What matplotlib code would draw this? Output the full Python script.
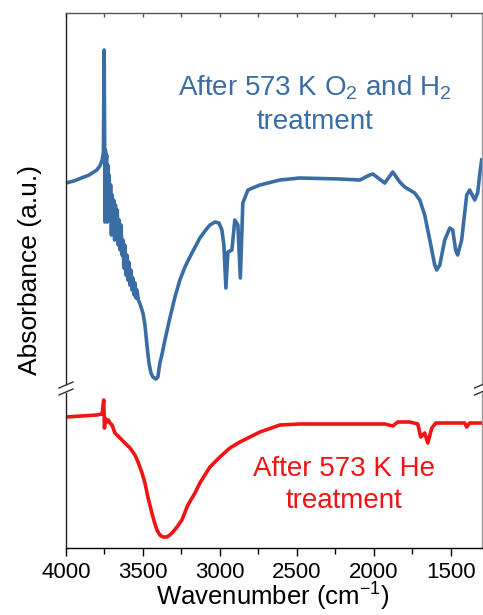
import matplotlib
matplotlib.use("Agg")
import matplotlib.pyplot as plt
from matplotlib.ticker import MultipleLocator

plt.rcParams['font.family'] = ['Liberation Sans', 'DejaVu Sans']
plt.rcParams['mathtext.fontset'] = 'custom'
plt.rcParams['mathtext.rm'] = 'Liberation Sans'
plt.rcParams['mathtext.it'] = 'Liberation Sans:italic'

# IR spectrum after O2 / H2 treatment at 573 K (wavenumber in cm-1, absorbance in a.u.)
wn_o2h2 = [4000, 3950, 3900, 3850, 3800, 3780, 3765, 3757, 3752, 3749, 3747, 3744,
           3740, 3736, 3731, 3728, 3724, 3720, 3714, 3710, 3705, 3700, 3695, 3690,
           3684, 3679, 3673, 3667, 3660, 3655, 3648, 3642, 3636, 3630, 3624, 3618,
           3611, 3605, 3598, 3592, 3585, 3578, 3571, 3565, 3558, 3551, 3545, 3539,
           3530, 3519, 3500, 3487, 3474, 3461, 3448, 3435, 3416, 3403, 3390, 3377,
           3357, 3325, 3292, 3260, 3227, 3195, 3130, 3097, 3065, 3032, 3006, 2987,
           2974, 2961, 2948, 2922, 2903, 2883, 2867, 2851, 2818, 2740, 2610, 2481,
           2221, 2091, 2026, 2006, 1929, 1877, 1831, 1799, 1734, 1701, 1669, 1636,
           1604, 1591, 1571, 1539, 1506, 1487, 1468, 1455, 1429, 1396, 1377, 1344,
           1325, 1312, 1299]
abs_o2h2 = [2.01, 2.03, 2.06, 2.09, 2.14, 2.18, 2.24, 2.32, 3.34, 2.44, 1.62, 2.34,
            2.19, 2.29, 1.62, 2.19, 1.99, 2.09, 1.79, 1.99, 1.49, 1.89, 1.59, 1.84,
            1.44, 1.79, 1.49, 1.74, 1.39, 1.64, 1.34, 1.59, 1.29, 1.44, 1.16, 1.39,
            1.09, 1.29, 1.04, 1.22, 0.99, 1.14, 0.94, 1.06, 0.89, 1.01, 0.86, 0.94,
            0.84, 0.80, 0.71, 0.59, 0.39, 0.21, 0.11, 0.07, 0.05, 0.07, 0.21, 0.29,
            0.44, 0.66, 0.87, 1.04, 1.17, 1.27, 1.46, 1.53, 1.59, 1.62, 1.61, 1.54,
            1.39, 0.96, 1.32, 1.34, 1.64, 1.59, 1.06, 1.81, 1.94, 1.99, 2.04, 2.06,
            2.05, 2.04, 2.09, 2.10, 2.01, 2.12, 2.02, 1.97, 1.91, 1.84, 1.69, 1.44,
            1.19, 1.14, 1.19, 1.44, 1.56, 1.54, 1.34, 1.29, 1.44, 1.89, 1.94, 1.84,
            1.91, 2.09, 2.24]

# IR spectrum after He treatment at 573 K
wn_he = [4000, 3900, 3800, 3765, 3755, 3750, 3745, 3734, 3724, 3714, 3701, 3682,
         3649, 3617, 3584, 3552, 3532, 3506, 3487, 3468, 3442, 3422, 3409, 3390,
         3370, 3344, 3325, 3305, 3279, 3247, 3208, 3162, 3130, 3065, 3000, 2935,
         2870, 2805, 2740, 2610, 2481, 2416, 2091, 1929, 1877, 1844, 1766, 1714,
         1695, 1669, 1649, 1623, 1597, 1539, 1409, 1396, 1377, 1299]
abs_he = [1.31, 1.32, 1.33, 1.34, 1.48, 1.20, 1.30, 1.26, 1.28, 1.25, 1.23, 1.15,
          1.10, 1.05, 1.00, 0.93, 0.86, 0.75, 0.65, 0.51, 0.35, 0.24, 0.18, 0.13,
          0.11, 0.11, 0.13, 0.16, 0.21, 0.28, 0.43, 0.55, 0.65, 0.81, 0.91, 1.00,
          1.06, 1.11, 1.16, 1.23, 1.24, 1.24, 1.24, 1.24, 1.22, 1.26, 1.26, 1.24,
          1.11, 1.15, 1.05, 1.20, 1.25, 1.25, 1.25, 1.21, 1.25, 1.25]

label_o2h2 = "After 573 K O$_2$ and H$_2$\ntreatment"
label_he = "After 573 K He\ntreatment"
x_ticks = [4000, 3500, 3000, 2500, 2000, 1500]

blue = '#3a6da4'
red = '#f01414'

W, H = 483, 615
fig = plt.figure(figsize=(W / 100, H / 100), dpi=100)

left, right = 66 / W, 481.5 / W
ax1 = fig.add_axes([left, 1 - 384 / H, right - left, (384 - 13) / H])
ax2 = fig.add_axes([left, 1 - 548 / H, right - left, (548 - 393) / H], sharex=ax1)

ax1.plot(wn_o2h2, abs_o2h2, color=blue, lw=2.6, solid_joinstyle='round')
ax2.plot(wn_he, abs_he, color=red, lw=2.6, solid_joinstyle='round')

ax1.set_xlim(4000, 1300)
ax1.set_ylim(0, 3.71)
ax2.set_ylim(0, 1.55)

for ax in (ax1, ax2):
    ax.set_yticks([])
    ax.spines['left'].set_color('#222222')
    ax.spines['right'].set_color('#9a9a9a')
    for s in ax.spines.values():
        s.set_linewidth(1.0)

ax1.spines['bottom'].set_visible(False)
ax2.spines['top'].set_visible(False)
ax1.spines['top'].set_color('#555555')

ax2.xaxis.set_major_locator(MultipleLocator(500))
ax2.xaxis.set_minor_locator(MultipleLocator(250))
ax2.set_xticks(x_ticks)
ax2.set_xticklabels([str(t) for t in x_ticks])
ax2.tick_params(axis='x', which='major', direction='out', length=6, width=1,
                labelsize=16, pad=4)
ax2.tick_params(axis='x', which='minor', direction='out', length=4, width=1)

ax1.tick_params(axis='x', which='both', bottom=False, labelbottom=False,
                top=True, direction='in', length=3, width=1, color='#555555')

fig.text(273 / W, 1 - 597 / H, "Wavenumber (cm$^{-1}$)", fontsize=18.5,
         ha='center', va='center')
fig.text(30 / W, 1 - 270 / H, "Absorbance (a.u.)", rotation=90, fontsize=19,
         ha='center', va='center')

ax1.text(315 / W, 1 - 104 / H, label_o2h2, transform=fig.transFigure,
         color=blue, fontsize=20, ha='center', va='center', linespacing=1.35)
ax2.text(344 / W, 1 - 485 / H, label_he, transform=fig.transFigure,
         color=red, fontsize=20, ha='center', va='center', linespacing=1.35)

# axis-break marks on both vertical spines
dx, dy = 7 / W, 3 / H
for xc in (left, right):
    for yc in (1 - 385 / H, 1 - 392 / H):
        fig.add_artist(plt.Line2D([xc - dx, xc + dx], [yc - dy, yc + dy],
                                  color='#333333', lw=1.0))

fig.savefig("out.png", dpi=100)
